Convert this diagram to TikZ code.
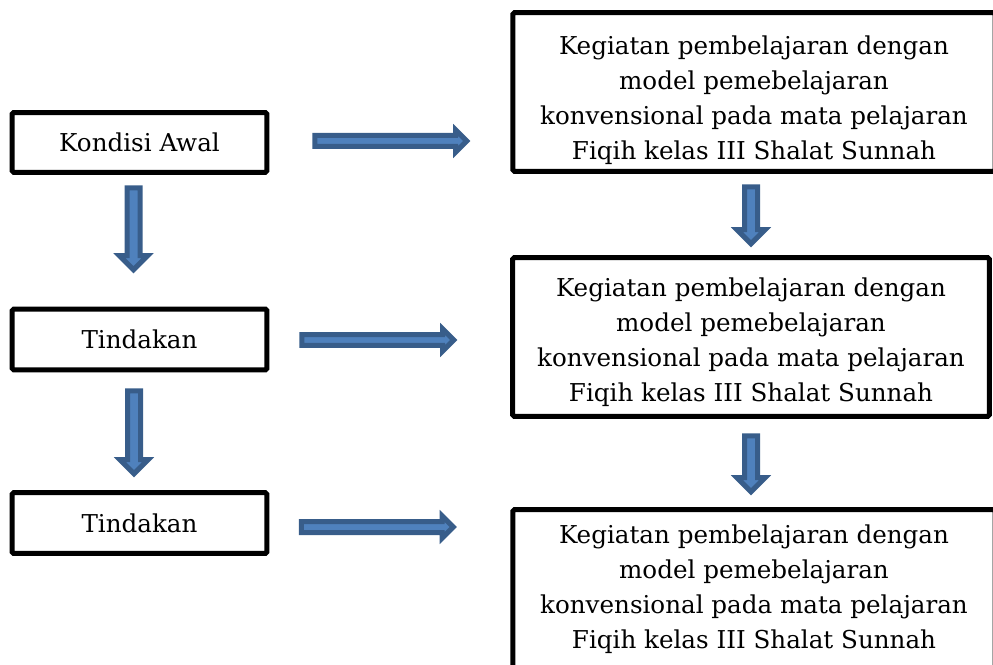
\documentclass[tikz,border=0pt]{standalone}
\usepackage{fontspec}
\setmainfont{DejaVu Serif}
\usepackage{tikz}
\usetikzlibrary{shapes.arrows}
\definecolor{arrowfill}{RGB}{79,129,189}
\definecolor{arrowline}{RGB}{56,93,138}

\begin{document}
\begin{tikzpicture}[x=0.02cm, y=-0.02cm,
		box/.style={draw, line width=0.1cm, rounded corners=1pt, align=center, font=\fontsize{14}{19.9}\selectfont},
		harrow/.style={single arrow, draw=arrowline, fill=arrowfill, line width=0.1cm, inner xsep=0pt, inner ysep=0.06cm, single arrow head extend=0.11cm, minimum height=3.04cm},
		varrow/.style={harrow, rotate=-90, inner ysep=0.08cm, single arrow head extend=0.15cm}]
				\useasboundingbox (0,0) rectangle (993,665);
				\clip (0,0) rectangle (993,665);
				% left column
				\node[box, minimum width=5.1cm, minimum height=1.2cm] (kondisi) at (139.5,142.5) {Kondisi Awal};
				\node[box, minimum width=5.1cm, minimum height=1.22cm] (tindakan1) at (139.5,339.5) {Tindakan};
				\node[box, minimum width=5.1cm, minimum height=1.22cm] (tindakan2) at (139.5,523) {Tindakan};
				% right column
				\node[box, minimum width=9.65cm, minimum height=3.18cm] (kegiatan1) at (754,92) {\rule{0pt}{0.7cm}Kegiatan pembelajaran dengan\\model pemebelajaran\\konvensional pada mata pelajaran\\Fiqih kelas III Shalat Sunnah};
				\node[box, minimum width=9.54cm, minimum height=3.18cm] (kegiatan2) at (751,337) {\rule{0pt}{0.59cm}Kegiatan pembelajaran dengan\\model pemebelajaran\\konvensional pada mata pelajaran\\Fiqih kelas III Shalat Sunnah};
				\node[box, minimum width=9.65cm, minimum height=3.18cm] (kegiatan3) at (754,589) {Kegiatan pembelajaran dengan\\model pemebelajaran\\konvensional pada mata pelajaran\\Fiqih kelas III Shalat Sunnah};
				% block arrows
				\node[harrow] (ka) at (388,141) {};
				\node[harrow] (ta) at (375,340) {};
				\node[harrow] (tb) at (374.5,527) {};
				\node[varrow, minimum height=1.64cm] (kd) at (133.5,225.5) {};
				\node[varrow, minimum height=1.66cm] (td) at (134,429) {};
				\node[varrow, minimum height=1.14cm] (gd1) at (751,212) {};
				\node[varrow, minimum height=1.12cm] (gd2) at (751,460.5) {};
			\end{tikzpicture}
\end{document}
